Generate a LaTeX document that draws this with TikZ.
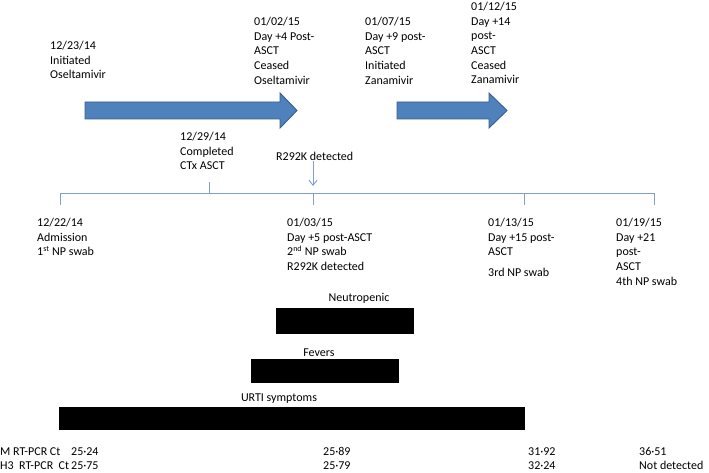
\documentclass[tikz,border=0pt]{standalone}
\usepackage{fontspec}
\setmainfont{Carlito}
\usetikzlibrary{arrows.meta}
\definecolor{arrowfill}{HTML}{4F81BD}
\definecolor{arrowedge}{HTML}{385D8A}
\definecolor{axisblue}{HTML}{7F9FCF}
\tikzset{
  bigarrow/.style={fill=arrowfill, draw=arrowedge, line width=0.9pt, line join=miter},
  axis/.style={draw=axisblue, line width=0.9pt},
  lab/.style={anchor=north west, inner sep=0pt, align=left, font=\fontsize{12}{14.65}\selectfont},
  barlab/.style={inner sep=0pt, font=\fontsize{12}{14.65}\selectfont},
  ctlab/.style={anchor=base west, inner sep=0pt, font=\fontsize{12}{14.65}\selectfont},
  bar/.style={fill=black},
}

\begin{document}
\begin{tikzpicture}[x=1pt,y=-1pt]
  \useasboundingbox (0,0) rectangle (709,473);
  % treatment arrows
  \draw[bigarrow] (85,102) -- (280,102) -- (280,93) -- (297,110.5) -- (280,128) -- (280,119) -- (85,119) -- cycle;
  \draw[bigarrow] (397,102) -- (489,102) -- (489,93) -- (507,110.5) -- (489,128) -- (489,119) -- (397,119) -- cycle;
  % events above
  \node[lab] (oselon) at (50,41) {12/23/14\\Initiated\\Oseltamivir};
  \node[lab] (oseloff) at (254,17) {01/02/15\\Day +4 Post-\\ASCT\\Ceased\\Oseltamivir};
  \node[lab] (zanaon) at (365,17) {01/07/15\\Day +9 post-\\ASCT\\Initiated\\Zanamivir};
  \node[lab] (zanaoff) at (471,2) {01/12/15\\Day +14\\post-\\ASCT\\Ceased\\Zanamivir};
  \node[lab] (ctx) at (180,132) {12/29/14\\Completed\\CTx ASCT};
  \node[lab] (mut) at (276,152) {R292K detected};
  % timeline
  \coordinate (a0) at (60,193);
  \coordinate (a1) at (209,193);
  \coordinate (a2) at (313,193);
  \coordinate (a3) at (524,193);
  \coordinate (a4) at (654,193);
  \coordinate (tip) at (313,186);
  \draw[axis] (a0) ++(0,12) -- (a0) -- (a4) -- ++(0,12);
  \draw[axis] (a1) -- ++(0,-11);
  \draw[axis] (a2) -- ++(0,12);
  \draw[axis] (a3) -- ++(0,12);
  \draw[axis,-{Straight Barb[length=5pt,width=8pt]}] (mut.south -| tip) -- (tip);
  % swabs below
  \node[lab] (swab1) at (37,218) {12/22/14\\Admission\\1\textsuperscript{st} NP swab};
  \node[lab] (swab2) at (287,218) {01/03/15\\Day +5 post-ASCT\\2\textsuperscript{nd} NP swab\\R292K detected};
  \node[lab] (swab3) at (488,218) {01/13/15\\Day +15 post-\\ASCT\\[6pt]3rd NP swab};
  \node[lab] (swab4) at (616,218) {01/19/15\\Day +21\\post-\\ASCT\\4th NP swab};
  % clinical course
  \node[barlab] (neu) at (359,298) {Neutropenic};
  \fill[bar] (276,308) rectangle (414,334);
  \node[barlab] (fev) at (319,353) {Fevers};
  \fill[bar] (251,359) rectangle (399,383);
  \node[barlab] (urti) at (279,399) {URTI symptoms};
  \fill[bar] (59,407) rectangle (525,430);
  % Ct values
  \node[ctlab] (mrow) at (0,455) {M RT-PCR Ct};
  \node[ctlab] (hrow) at (0,469) {H3\ \ RT-PCR\ \ Ct};
  \node[ctlab] (m1) at (71,455) {25·24};
  \node[ctlab] (m2) at (323,455) {25·89};
  \node[ctlab] (m3) at (528,455) {31·92};
  \node[ctlab] (m4) at (639,455) {36·51};
  \node[ctlab] (h1) at (71,469) {25·75};
  \node[ctlab] (h2) at (323,469) {25·79};
  \node[ctlab] (h3) at (528,469) {32·24};
  \node[ctlab] (h4) at (639,469) {Not detected};
\end{tikzpicture}
\end{document}
